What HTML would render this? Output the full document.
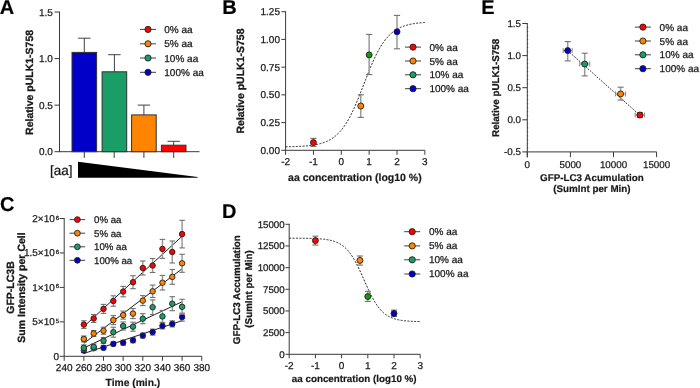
<!DOCTYPE html>
<html><head><meta charset="utf-8"><style>
html,body{margin:0;padding:0;background:#fff;width:700px;height:388px;overflow:hidden}
svg{display:block;will-change:transform}
text{font-family:"Liberation Sans",sans-serif;text-rendering:geometricPrecision}
</style></head><body>
<svg width="700" height="388" viewBox="0 0 700 388">
<rect width="700" height="388" fill="#fff"/>
<text x="-0.30" y="14.30" font-size="20" text-anchor="start" font-weight="bold" stroke="#1a1a1a" stroke-width="0.2" fill="#000" >A</text>
<text x="222.20" y="14.30" font-size="20" text-anchor="start" font-weight="bold" stroke="#1a1a1a" stroke-width="0.2" fill="#000" >B</text>
<text x="481.20" y="14.30" font-size="20" text-anchor="start" font-weight="bold" stroke="#1a1a1a" stroke-width="0.2" fill="#000" >E</text>
<text x="0.00" y="211.30" font-size="20" text-anchor="start" font-weight="bold" stroke="#1a1a1a" stroke-width="0.2" fill="#000" >C</text>
<text x="222.00" y="218.20" font-size="20" text-anchor="start" font-weight="bold" stroke="#1a1a1a" stroke-width="0.2" fill="#000" >D</text>
<line x1="59.50" y1="11.55" x2="59.50" y2="152.20" stroke="#3a3a3a" stroke-width="1" />
<line x1="54.50" y1="151.70" x2="59.50" y2="151.70" stroke="#3a3a3a" stroke-width="1" />
<text x="52.90" y="155.40" font-size="10" text-anchor="end" stroke="#1a1a1a" stroke-width="0.25" fill="#1a1a1a" >0.0</text>
<line x1="54.50" y1="105.15" x2="59.50" y2="105.15" stroke="#3a3a3a" stroke-width="1" />
<text x="52.90" y="108.85" font-size="10" text-anchor="end" stroke="#1a1a1a" stroke-width="0.25" fill="#1a1a1a" >0.5</text>
<line x1="54.50" y1="58.60" x2="59.50" y2="58.60" stroke="#3a3a3a" stroke-width="1" />
<text x="52.90" y="62.30" font-size="10" text-anchor="end" stroke="#1a1a1a" stroke-width="0.25" fill="#1a1a1a" >1.0</text>
<line x1="54.50" y1="12.05" x2="59.50" y2="12.05" stroke="#3a3a3a" stroke-width="1" />
<text x="52.90" y="15.75" font-size="10" text-anchor="end" stroke="#1a1a1a" stroke-width="0.25" fill="#1a1a1a" >1.5</text>
<line x1="59.50" y1="151.70" x2="199.50" y2="151.70" stroke="#3a3a3a" stroke-width="1" />
<line x1="84.30" y1="151.70" x2="84.30" y2="157.90" stroke="#3a3a3a" stroke-width="1" />
<line x1="114.20" y1="151.70" x2="114.20" y2="157.90" stroke="#3a3a3a" stroke-width="1" />
<line x1="143.90" y1="151.70" x2="143.90" y2="157.90" stroke="#3a3a3a" stroke-width="1" />
<line x1="173.70" y1="151.70" x2="173.70" y2="157.90" stroke="#3a3a3a" stroke-width="1" />
<line x1="84.30" y1="38.20" x2="84.30" y2="52.40" stroke="#404040" stroke-width="1" />
<line x1="78.10" y1="38.20" x2="90.50" y2="38.20" stroke="#404040" stroke-width="1" />
<rect x="72.00" y="52.40" width="24.60" height="99.30" fill="#0000c8" stroke="#303030" stroke-width="1"/>
<line x1="114.40" y1="54.70" x2="114.40" y2="71.80" stroke="#404040" stroke-width="1" />
<line x1="108.20" y1="54.70" x2="120.60" y2="54.70" stroke="#404040" stroke-width="1" />
<rect x="102.10" y="71.80" width="24.60" height="79.90" fill="#1a9e68" stroke="#303030" stroke-width="1"/>
<line x1="143.90" y1="105.10" x2="143.90" y2="114.90" stroke="#404040" stroke-width="1" />
<line x1="137.70" y1="105.10" x2="150.10" y2="105.10" stroke="#404040" stroke-width="1" />
<rect x="131.60" y="114.90" width="24.60" height="36.80" fill="#ff8500" stroke="#303030" stroke-width="1"/>
<line x1="173.70" y1="141.30" x2="173.70" y2="145.20" stroke="#404040" stroke-width="1" />
<line x1="167.50" y1="141.30" x2="179.90" y2="141.30" stroke="#404040" stroke-width="1" />
<rect x="161.40" y="145.20" width="24.60" height="6.50" fill="#ff0000" stroke="#303030" stroke-width="1"/>
<text transform="translate(33.30,82.40) rotate(-90)" font-size="10.5" text-anchor="middle" font-weight="bold" stroke="#1a1a1a" stroke-width="0.3" fill="#1a1a1a">Relative pULK1-S758</text>
<text x="50.00" y="175.00" font-size="13.5" text-anchor="start" stroke="#1a1a1a" stroke-width="0.25" fill="#1a1a1a" >[aa]</text>
<polygon points="78,161.8 197.6,177.0 197.6,177.8 78,177.8" fill="#000"/>
<line x1="140.00" y1="29.40" x2="156.00" y2="29.40" stroke="#404040" stroke-width="1" />
<circle cx="148.00" cy="29.40" r="3.1" fill="#ff0000" stroke="#202020" stroke-width="0.9"/>
<text x="164.30" y="33.00" font-size="10" text-anchor="start" stroke="#1a1a1a" stroke-width="0.25" fill="#1a1a1a" >0% aa</text>
<line x1="140.00" y1="43.80" x2="156.00" y2="43.80" stroke="#404040" stroke-width="1" />
<circle cx="148.00" cy="43.80" r="3.1" fill="#ff8500" stroke="#202020" stroke-width="0.9"/>
<text x="164.30" y="47.40" font-size="10" text-anchor="start" stroke="#1a1a1a" stroke-width="0.25" fill="#1a1a1a" >5% aa</text>
<line x1="140.00" y1="58.00" x2="156.00" y2="58.00" stroke="#404040" stroke-width="1" />
<circle cx="148.00" cy="58.00" r="3.1" fill="#1a9e68" stroke="#202020" stroke-width="0.9"/>
<text x="164.30" y="61.60" font-size="10" text-anchor="start" stroke="#1a1a1a" stroke-width="0.25" fill="#1a1a1a" >10% aa</text>
<line x1="140.00" y1="72.30" x2="156.00" y2="72.30" stroke="#404040" stroke-width="1" />
<circle cx="148.00" cy="72.30" r="3.1" fill="#0000c8" stroke="#202020" stroke-width="0.9"/>
<text x="164.30" y="75.90" font-size="10" text-anchor="start" stroke="#1a1a1a" stroke-width="0.25" fill="#1a1a1a" >100% aa</text>
<line x1="285.60" y1="11.20" x2="285.60" y2="150.80" stroke="#3a3a3a" stroke-width="1" />
<line x1="281.40" y1="150.30" x2="285.60" y2="150.30" stroke="#3a3a3a" stroke-width="1" />
<text x="280.00" y="153.70" font-size="10" text-anchor="end" stroke="#1a1a1a" stroke-width="0.25" fill="#1a1a1a" >0.00</text>
<line x1="281.40" y1="122.58" x2="285.60" y2="122.58" stroke="#3a3a3a" stroke-width="1" />
<text x="280.00" y="125.98" font-size="10" text-anchor="end" stroke="#1a1a1a" stroke-width="0.25" fill="#1a1a1a" >0.25</text>
<line x1="281.40" y1="94.86" x2="285.60" y2="94.86" stroke="#3a3a3a" stroke-width="1" />
<text x="280.00" y="98.26" font-size="10" text-anchor="end" stroke="#1a1a1a" stroke-width="0.25" fill="#1a1a1a" >0.50</text>
<line x1="281.40" y1="67.14" x2="285.60" y2="67.14" stroke="#3a3a3a" stroke-width="1" />
<text x="280.00" y="70.54" font-size="10" text-anchor="end" stroke="#1a1a1a" stroke-width="0.25" fill="#1a1a1a" >0.75</text>
<line x1="281.40" y1="39.42" x2="285.60" y2="39.42" stroke="#3a3a3a" stroke-width="1" />
<text x="280.00" y="42.82" font-size="10" text-anchor="end" stroke="#1a1a1a" stroke-width="0.25" fill="#1a1a1a" >1.00</text>
<line x1="281.40" y1="11.70" x2="285.60" y2="11.70" stroke="#3a3a3a" stroke-width="1" />
<text x="280.00" y="15.10" font-size="10" text-anchor="end" stroke="#1a1a1a" stroke-width="0.25" fill="#1a1a1a" >1.25</text>
<line x1="285.60" y1="150.30" x2="424.85" y2="150.30" stroke="#3a3a3a" stroke-width="1" />
<line x1="285.60" y1="150.30" x2="285.60" y2="154.80" stroke="#3a3a3a" stroke-width="1" />
<text x="285.60" y="165.20" font-size="10" text-anchor="middle" stroke="#1a1a1a" stroke-width="0.25" fill="#1a1a1a" >-2</text>
<line x1="313.45" y1="150.30" x2="313.45" y2="154.80" stroke="#3a3a3a" stroke-width="1" />
<text x="313.45" y="165.20" font-size="10" text-anchor="middle" stroke="#1a1a1a" stroke-width="0.25" fill="#1a1a1a" >-1</text>
<line x1="341.30" y1="150.30" x2="341.30" y2="154.80" stroke="#3a3a3a" stroke-width="1" />
<text x="341.30" y="165.20" font-size="10" text-anchor="middle" stroke="#1a1a1a" stroke-width="0.25" fill="#1a1a1a" >0</text>
<line x1="369.15" y1="150.30" x2="369.15" y2="154.80" stroke="#3a3a3a" stroke-width="1" />
<text x="369.15" y="165.20" font-size="10" text-anchor="middle" stroke="#1a1a1a" stroke-width="0.25" fill="#1a1a1a" >1</text>
<line x1="397.00" y1="150.30" x2="397.00" y2="154.80" stroke="#3a3a3a" stroke-width="1" />
<text x="397.00" y="165.20" font-size="10" text-anchor="middle" stroke="#1a1a1a" stroke-width="0.25" fill="#1a1a1a" >2</text>
<line x1="424.85" y1="150.30" x2="424.85" y2="154.80" stroke="#3a3a3a" stroke-width="1" />
<text x="424.85" y="165.20" font-size="10" text-anchor="middle" stroke="#1a1a1a" stroke-width="0.25" fill="#1a1a1a" >3</text>
<text x="354.90" y="180.80" font-size="10.5" text-anchor="middle" font-weight="bold" stroke="#1a1a1a" stroke-width="0.2" fill="#1a1a1a" >aa concentration (log10 %)</text>
<text transform="translate(244.00,81.00) rotate(-90)" font-size="10.5" text-anchor="middle" font-weight="bold" stroke="#1a1a1a" stroke-width="0.3" fill="#1a1a1a">Relative pULK1-S758</text>
<polyline points="285.60,146.78 286.30,146.77 286.99,146.76 287.69,146.74 288.39,146.73 289.08,146.71 289.78,146.70 290.47,146.68 291.17,146.67 291.87,146.65 292.56,146.63 293.26,146.61 293.96,146.59 294.65,146.56 295.35,146.54 296.04,146.51 296.74,146.49 297.44,146.46 298.13,146.43 298.83,146.39 299.53,146.36 300.22,146.32 300.92,146.29 301.61,146.25 302.31,146.20 303.01,146.16 303.70,146.11 304.40,146.06 305.10,146.00 305.79,145.95 306.49,145.89 307.18,145.82 307.88,145.76 308.58,145.68 309.27,145.61 309.97,145.53 310.67,145.44 311.36,145.35 312.06,145.26 312.75,145.16 313.45,145.05 314.15,144.94 314.84,144.82 315.54,144.70 316.24,144.57 316.93,144.43 317.63,144.28 318.32,144.12 319.02,143.96 319.72,143.78 320.41,143.60 321.11,143.41 321.81,143.20 322.50,142.98 323.20,142.76 323.89,142.52 324.59,142.26 325.29,141.99 325.98,141.71 326.68,141.41 327.38,141.10 328.07,140.77 328.77,140.42 329.46,140.05 330.16,139.67 330.86,139.26 331.55,138.83 332.25,138.38 332.95,137.91 333.64,137.41 334.34,136.89 335.03,136.35 335.73,135.77 336.43,135.17 337.12,134.54 337.82,133.88 338.52,133.19 339.21,132.47 339.91,131.71 340.60,130.93 341.30,130.10 342.00,129.25 342.69,128.35 343.39,127.42 344.09,126.45 344.78,125.44 345.48,124.40 346.17,123.31 346.87,122.19 347.57,121.02 348.26,119.82 348.96,118.57 349.66,117.29 350.35,115.97 351.05,114.60 351.74,113.20 352.44,111.76 353.14,110.29 353.83,108.78 354.53,107.23 355.23,105.65 355.92,104.04 356.62,102.41 357.31,100.74 358.01,99.05 358.71,97.33 359.40,95.60 360.10,93.84 360.80,92.08 361.49,90.29 362.19,88.50 362.88,86.71 363.58,84.90 364.28,83.10 364.97,81.30 365.67,79.50 366.37,77.72 367.06,75.94 367.76,74.17 368.45,72.43 369.15,70.70 369.85,68.99 370.54,67.31 371.24,65.65 371.94,64.02 372.63,62.43 373.33,60.86 374.02,59.33 374.72,57.83 375.42,56.37 376.11,54.94 376.81,53.55 377.50,52.20 378.20,50.90 378.90,49.63 379.59,48.40 380.29,47.21 380.99,46.06 381.68,44.95 382.38,43.87 383.08,42.84 383.77,41.85 384.47,40.89 385.16,39.98 385.86,39.09 386.56,38.25 387.25,37.44 387.95,36.66 388.65,35.92 389.34,35.21 390.04,34.53 390.73,33.88 391.43,33.26 392.13,32.67 392.82,32.11 393.52,31.57 394.22,31.06 394.91,30.57 395.61,30.11 396.30,29.67 397.00,29.25 397.70,28.85 398.39,28.47 399.09,28.11 399.79,27.76 400.48,27.44 401.18,27.13 401.87,26.84 402.57,26.56 403.27,26.30 403.96,26.05 404.66,25.81 405.36,25.59 406.05,25.38 406.75,25.18 407.44,24.99 408.14,24.80 408.84,24.63 409.53,24.47 410.23,24.32 410.93,24.17 411.62,24.04 412.32,23.91 413.01,23.79 413.71,23.67 414.41,23.56 415.10,23.46 415.80,23.36 416.50,23.27 417.19,23.18 417.89,23.09 418.58,23.02 419.28,22.94 419.98,22.87 420.67,22.81 421.37,22.74 422.07,22.68 422.76,22.63 423.46,22.58 424.15,22.53 424.85,22.48" fill="none" stroke="#202020" stroke-width="1" stroke-dasharray="2,1.4"/>
<line x1="313.45" y1="138.40" x2="313.45" y2="146.40" stroke="#9a9a9a" stroke-width="1.5" />
<line x1="310.35" y1="138.40" x2="316.55" y2="138.40" stroke="#707070" stroke-width="1.1" />
<line x1="310.35" y1="146.40" x2="316.55" y2="146.40" stroke="#707070" stroke-width="1.1" />
<circle cx="313.45" cy="142.60" r="3.0" fill="#ff0000" stroke="#202020" stroke-width="0.9"/>
<line x1="360.77" y1="94.80" x2="360.77" y2="117.40" stroke="#9a9a9a" stroke-width="1.5" />
<line x1="357.67" y1="94.80" x2="363.87" y2="94.80" stroke="#707070" stroke-width="1.1" />
<line x1="357.67" y1="117.40" x2="363.87" y2="117.40" stroke="#707070" stroke-width="1.1" />
<circle cx="360.77" cy="106.00" r="3.0" fill="#ff8500" stroke="#202020" stroke-width="0.9"/>
<line x1="369.15" y1="34.40" x2="369.15" y2="74.60" stroke="#9a9a9a" stroke-width="1.5" />
<line x1="366.05" y1="34.40" x2="372.25" y2="34.40" stroke="#707070" stroke-width="1.1" />
<line x1="366.05" y1="74.60" x2="372.25" y2="74.60" stroke="#707070" stroke-width="1.1" />
<circle cx="369.15" cy="54.90" r="3.0" fill="#109a10" stroke="#202020" stroke-width="0.9"/>
<line x1="397.00" y1="15.40" x2="397.00" y2="48.80" stroke="#9a9a9a" stroke-width="1.5" />
<line x1="393.90" y1="15.40" x2="400.10" y2="15.40" stroke="#707070" stroke-width="1.1" />
<line x1="393.90" y1="48.80" x2="400.10" y2="48.80" stroke="#707070" stroke-width="1.1" />
<circle cx="397.00" cy="31.80" r="3.0" fill="#0000c8" stroke="#202020" stroke-width="0.9"/>
<line x1="405.00" y1="47.10" x2="421.00" y2="47.10" stroke="#404040" stroke-width="1" />
<circle cx="413.00" cy="47.10" r="3.1" fill="#ff0000" stroke="#202020" stroke-width="0.9"/>
<text x="429.40" y="50.70" font-size="10" text-anchor="start" stroke="#1a1a1a" stroke-width="0.25" fill="#1a1a1a" >0% aa</text>
<line x1="405.00" y1="61.00" x2="421.00" y2="61.00" stroke="#404040" stroke-width="1" />
<circle cx="413.00" cy="61.00" r="3.1" fill="#ff8500" stroke="#202020" stroke-width="0.9"/>
<text x="429.40" y="64.60" font-size="10" text-anchor="start" stroke="#1a1a1a" stroke-width="0.25" fill="#1a1a1a" >5% aa</text>
<line x1="405.00" y1="74.80" x2="421.00" y2="74.80" stroke="#404040" stroke-width="1" />
<circle cx="413.00" cy="74.80" r="3.1" fill="#1a9e68" stroke="#202020" stroke-width="0.9"/>
<text x="429.40" y="78.40" font-size="10" text-anchor="start" stroke="#1a1a1a" stroke-width="0.25" fill="#1a1a1a" >10% aa</text>
<line x1="405.00" y1="88.70" x2="421.00" y2="88.70" stroke="#404040" stroke-width="1" />
<circle cx="413.00" cy="88.70" r="3.1" fill="#0000c8" stroke="#202020" stroke-width="0.9"/>
<text x="429.40" y="92.30" font-size="10" text-anchor="start" stroke="#1a1a1a" stroke-width="0.25" fill="#1a1a1a" >100% aa</text>
<line x1="527.30" y1="23.00" x2="527.30" y2="157.40" stroke="#3a3a3a" stroke-width="1" />
<line x1="522.30" y1="151.90" x2="527.30" y2="151.90" stroke="#3a3a3a" stroke-width="1" />
<text x="521.00" y="155.20" font-size="9.8" text-anchor="end" stroke="#1a1a1a" stroke-width="0.25" fill="#1a1a1a" >-0.5</text>
<line x1="522.30" y1="119.80" x2="527.30" y2="119.80" stroke="#3a3a3a" stroke-width="1" />
<text x="521.00" y="123.10" font-size="9.8" text-anchor="end" stroke="#1a1a1a" stroke-width="0.25" fill="#1a1a1a" >0.0</text>
<line x1="522.30" y1="87.70" x2="527.30" y2="87.70" stroke="#3a3a3a" stroke-width="1" />
<text x="521.00" y="91.00" font-size="9.8" text-anchor="end" stroke="#1a1a1a" stroke-width="0.25" fill="#1a1a1a" >0.5</text>
<line x1="522.30" y1="55.60" x2="527.30" y2="55.60" stroke="#3a3a3a" stroke-width="1" />
<text x="521.00" y="58.90" font-size="9.8" text-anchor="end" stroke="#1a1a1a" stroke-width="0.25" fill="#1a1a1a" >1.0</text>
<line x1="522.30" y1="23.50" x2="527.30" y2="23.50" stroke="#3a3a3a" stroke-width="1" />
<text x="521.00" y="26.80" font-size="9.8" text-anchor="end" stroke="#1a1a1a" stroke-width="0.25" fill="#1a1a1a" >1.5</text>
<line x1="527.00" y1="147.89" x2="528.20" y2="147.89" stroke="#333" stroke-width="0.8" />
<line x1="527.00" y1="143.88" x2="528.20" y2="143.88" stroke="#333" stroke-width="0.8" />
<line x1="527.00" y1="139.86" x2="528.20" y2="139.86" stroke="#333" stroke-width="0.8" />
<line x1="527.00" y1="135.85" x2="528.20" y2="135.85" stroke="#333" stroke-width="0.8" />
<line x1="527.00" y1="131.84" x2="528.20" y2="131.84" stroke="#333" stroke-width="0.8" />
<line x1="527.00" y1="127.83" x2="528.20" y2="127.83" stroke="#333" stroke-width="0.8" />
<line x1="527.00" y1="123.81" x2="528.20" y2="123.81" stroke="#333" stroke-width="0.8" />
<line x1="527.00" y1="115.79" x2="528.20" y2="115.79" stroke="#333" stroke-width="0.8" />
<line x1="527.00" y1="111.78" x2="528.20" y2="111.78" stroke="#333" stroke-width="0.8" />
<line x1="527.00" y1="107.76" x2="528.20" y2="107.76" stroke="#333" stroke-width="0.8" />
<line x1="527.00" y1="103.75" x2="528.20" y2="103.75" stroke="#333" stroke-width="0.8" />
<line x1="527.00" y1="99.74" x2="528.20" y2="99.74" stroke="#333" stroke-width="0.8" />
<line x1="527.00" y1="95.73" x2="528.20" y2="95.73" stroke="#333" stroke-width="0.8" />
<line x1="527.00" y1="91.71" x2="528.20" y2="91.71" stroke="#333" stroke-width="0.8" />
<line x1="527.00" y1="83.69" x2="528.20" y2="83.69" stroke="#333" stroke-width="0.8" />
<line x1="527.00" y1="79.67" x2="528.20" y2="79.67" stroke="#333" stroke-width="0.8" />
<line x1="527.00" y1="75.66" x2="528.20" y2="75.66" stroke="#333" stroke-width="0.8" />
<line x1="527.00" y1="71.65" x2="528.20" y2="71.65" stroke="#333" stroke-width="0.8" />
<line x1="527.00" y1="67.64" x2="528.20" y2="67.64" stroke="#333" stroke-width="0.8" />
<line x1="527.00" y1="63.62" x2="528.20" y2="63.62" stroke="#333" stroke-width="0.8" />
<line x1="527.00" y1="59.61" x2="528.20" y2="59.61" stroke="#333" stroke-width="0.8" />
<line x1="527.00" y1="51.59" x2="528.20" y2="51.59" stroke="#333" stroke-width="0.8" />
<line x1="527.00" y1="47.57" x2="528.20" y2="47.57" stroke="#333" stroke-width="0.8" />
<line x1="527.00" y1="43.56" x2="528.20" y2="43.56" stroke="#333" stroke-width="0.8" />
<line x1="527.00" y1="39.55" x2="528.20" y2="39.55" stroke="#333" stroke-width="0.8" />
<line x1="527.00" y1="35.54" x2="528.20" y2="35.54" stroke="#333" stroke-width="0.8" />
<line x1="527.00" y1="31.52" x2="528.20" y2="31.52" stroke="#333" stroke-width="0.8" />
<line x1="527.00" y1="27.51" x2="528.20" y2="27.51" stroke="#333" stroke-width="0.8" />
<line x1="527.30" y1="151.90" x2="656.60" y2="151.90" stroke="#3a3a3a" stroke-width="1" />
<line x1="527.30" y1="151.90" x2="527.30" y2="157.20" stroke="#3a3a3a" stroke-width="1" />
<text x="527.30" y="167.60" font-size="9.8" text-anchor="middle" stroke="#1a1a1a" stroke-width="0.25" fill="#1a1a1a" >0</text>
<line x1="570.40" y1="151.90" x2="570.40" y2="157.20" stroke="#3a3a3a" stroke-width="1" />
<text x="570.40" y="167.60" font-size="9.8" text-anchor="middle" stroke="#1a1a1a" stroke-width="0.25" fill="#1a1a1a" >5000</text>
<line x1="613.50" y1="151.90" x2="613.50" y2="157.20" stroke="#3a3a3a" stroke-width="1" />
<text x="613.50" y="167.60" font-size="9.8" text-anchor="middle" stroke="#1a1a1a" stroke-width="0.25" fill="#1a1a1a" >10000</text>
<line x1="656.60" y1="151.90" x2="656.60" y2="157.20" stroke="#3a3a3a" stroke-width="1" />
<text x="656.60" y="167.60" font-size="9.8" text-anchor="middle" stroke="#1a1a1a" stroke-width="0.25" fill="#1a1a1a" >15000</text>
<text x="591.90" y="181.00" font-size="9.8" text-anchor="middle" font-weight="bold" stroke="#1a1a1a" stroke-width="0.2" fill="#1a1a1a" >GFP-LC3 Acumulation</text>
<text x="591.90" y="191.90" font-size="9.8" text-anchor="middle" font-weight="bold" stroke="#1a1a1a" stroke-width="0.2" fill="#1a1a1a" >(SumInt per Min)</text>
<text transform="translate(498.80,87.90) rotate(-90)" font-size="9.8" text-anchor="middle" font-weight="bold" stroke="#1a1a1a" stroke-width="0.3" fill="#1a1a1a">Relative pULK1-S758</text>
<polyline points="567.7,50.6 639.9,115.3" fill="none" stroke="#202020" stroke-width="1" stroke-dasharray="1.6,1.4"/>
<line x1="567.70" y1="41.60" x2="567.70" y2="60.90" stroke="#9a9a9a" stroke-width="1.5" />
<line x1="564.70" y1="41.60" x2="570.70" y2="41.60" stroke="#707070" stroke-width="1.1" />
<line x1="564.70" y1="60.90" x2="570.70" y2="60.90" stroke="#707070" stroke-width="1.1" />
<line x1="563.20" y1="50.60" x2="572.20" y2="50.60" stroke="#888" stroke-width="1" />
<line x1="563.20" y1="48.10" x2="563.20" y2="53.10" stroke="#888" stroke-width="1" />
<line x1="572.20" y1="48.10" x2="572.20" y2="53.10" stroke="#888" stroke-width="1" />
<circle cx="567.70" cy="50.60" r="3.0" fill="#0000c8" stroke="#202020" stroke-width="0.9"/>
<line x1="584.70" y1="53.20" x2="584.70" y2="75.90" stroke="#9a9a9a" stroke-width="1.5" />
<line x1="581.70" y1="53.20" x2="587.70" y2="53.20" stroke="#707070" stroke-width="1.1" />
<line x1="581.70" y1="75.90" x2="587.70" y2="75.90" stroke="#707070" stroke-width="1.1" />
<line x1="579.70" y1="64.00" x2="589.70" y2="64.00" stroke="#888" stroke-width="1" />
<line x1="579.70" y1="61.50" x2="579.70" y2="66.50" stroke="#888" stroke-width="1" />
<line x1="589.70" y1="61.50" x2="589.70" y2="66.50" stroke="#888" stroke-width="1" />
<circle cx="584.70" cy="64.00" r="3.0" fill="#1a9e68" stroke="#202020" stroke-width="0.9"/>
<line x1="620.60" y1="87.20" x2="620.60" y2="100.10" stroke="#9a9a9a" stroke-width="1.5" />
<line x1="617.60" y1="87.20" x2="623.60" y2="87.20" stroke="#707070" stroke-width="1.1" />
<line x1="617.60" y1="100.10" x2="623.60" y2="100.10" stroke="#707070" stroke-width="1.1" />
<line x1="615.60" y1="93.90" x2="625.60" y2="93.90" stroke="#888" stroke-width="1" />
<line x1="615.60" y1="91.40" x2="615.60" y2="96.40" stroke="#888" stroke-width="1" />
<line x1="625.60" y1="91.40" x2="625.60" y2="96.40" stroke="#888" stroke-width="1" />
<circle cx="620.60" cy="93.90" r="3.0" fill="#ff8500" stroke="#202020" stroke-width="0.9"/>
<line x1="639.90" y1="112.50" x2="639.90" y2="117.50" stroke="#9a9a9a" stroke-width="1.5" />
<line x1="636.90" y1="112.50" x2="642.90" y2="112.50" stroke="#707070" stroke-width="1.1" />
<line x1="636.90" y1="117.50" x2="642.90" y2="117.50" stroke="#707070" stroke-width="1.1" />
<line x1="635.20" y1="115.00" x2="644.60" y2="115.00" stroke="#888" stroke-width="1" />
<line x1="635.20" y1="112.50" x2="635.20" y2="117.50" stroke="#888" stroke-width="1" />
<line x1="644.60" y1="112.50" x2="644.60" y2="117.50" stroke="#888" stroke-width="1" />
<circle cx="639.90" cy="115.00" r="3.0" fill="#ff0000" stroke="#202020" stroke-width="0.9"/>
<line x1="634.90" y1="27.10" x2="650.90" y2="27.10" stroke="#404040" stroke-width="1" />
<circle cx="642.90" cy="27.10" r="3.1" fill="#ff0000" stroke="#202020" stroke-width="0.9"/>
<text x="659.60" y="30.70" font-size="10" text-anchor="start" stroke="#1a1a1a" stroke-width="0.25" fill="#1a1a1a" >0% aa</text>
<line x1="634.90" y1="41.00" x2="650.90" y2="41.00" stroke="#404040" stroke-width="1" />
<circle cx="642.90" cy="41.00" r="3.1" fill="#ff8500" stroke="#202020" stroke-width="0.9"/>
<text x="659.60" y="44.60" font-size="10" text-anchor="start" stroke="#1a1a1a" stroke-width="0.25" fill="#1a1a1a" >5% aa</text>
<line x1="634.90" y1="54.80" x2="650.90" y2="54.80" stroke="#404040" stroke-width="1" />
<circle cx="642.90" cy="54.80" r="3.1" fill="#1a9e68" stroke="#202020" stroke-width="0.9"/>
<text x="659.60" y="58.40" font-size="10" text-anchor="start" stroke="#1a1a1a" stroke-width="0.25" fill="#1a1a1a" >10% aa</text>
<line x1="634.90" y1="68.70" x2="650.90" y2="68.70" stroke="#404040" stroke-width="1" />
<circle cx="642.90" cy="68.70" r="3.1" fill="#0000c8" stroke="#202020" stroke-width="0.9"/>
<text x="659.60" y="72.30" font-size="10" text-anchor="start" stroke="#1a1a1a" stroke-width="0.25" fill="#1a1a1a" >100% aa</text>
<line x1="64.20" y1="218.00" x2="64.20" y2="356.80" stroke="#3a3a3a" stroke-width="1" />
<line x1="59.70" y1="356.30" x2="64.20" y2="356.30" stroke="#3a3a3a" stroke-width="1" />
<text x="59.00" y="359.70" font-size="10" text-anchor="end" stroke="#1a1a1a" stroke-width="0.25" fill="#1a1a1a" >0</text>
<line x1="59.70" y1="321.85" x2="64.20" y2="321.85" stroke="#3a3a3a" stroke-width="1" />
<text x="59.00" y="325.25" font-size="10" text-anchor="end" stroke="#1a1a1a" stroke-width="0.25" fill="#1a1a1a" >5×10<tspan dx="0.8" dy="-2.4" font-size="6">5</tspan></text>
<line x1="59.70" y1="287.40" x2="64.20" y2="287.40" stroke="#3a3a3a" stroke-width="1" />
<text x="59.00" y="290.80" font-size="10" text-anchor="end" stroke="#1a1a1a" stroke-width="0.25" fill="#1a1a1a" >1×10<tspan dx="0.8" dy="-2.4" font-size="6">6</tspan></text>
<line x1="59.70" y1="252.95" x2="64.20" y2="252.95" stroke="#3a3a3a" stroke-width="1" />
<text x="59.00" y="256.35" font-size="10" text-anchor="end" stroke="#1a1a1a" stroke-width="0.25" fill="#1a1a1a" >1.5×10<tspan dx="0.8" dy="-2.4" font-size="6">6</tspan></text>
<line x1="59.70" y1="218.50" x2="64.20" y2="218.50" stroke="#3a3a3a" stroke-width="1" />
<text x="59.00" y="221.90" font-size="10" text-anchor="end" stroke="#1a1a1a" stroke-width="0.25" fill="#1a1a1a" >2×10<tspan dx="0.8" dy="-2.4" font-size="6">6</tspan></text>
<line x1="64.20" y1="356.30" x2="201.75" y2="356.30" stroke="#3a3a3a" stroke-width="1" />
<line x1="64.20" y1="356.30" x2="64.20" y2="360.80" stroke="#3a3a3a" stroke-width="1" />
<text x="64.20" y="370.90" font-size="10" text-anchor="middle" stroke="#1a1a1a" stroke-width="0.25" fill="#1a1a1a" >240</text>
<line x1="83.85" y1="356.30" x2="83.85" y2="360.80" stroke="#3a3a3a" stroke-width="1" />
<text x="83.85" y="370.90" font-size="10" text-anchor="middle" stroke="#1a1a1a" stroke-width="0.25" fill="#1a1a1a" >260</text>
<line x1="103.50" y1="356.30" x2="103.50" y2="360.80" stroke="#3a3a3a" stroke-width="1" />
<text x="103.50" y="370.90" font-size="10" text-anchor="middle" stroke="#1a1a1a" stroke-width="0.25" fill="#1a1a1a" >280</text>
<line x1="123.15" y1="356.30" x2="123.15" y2="360.80" stroke="#3a3a3a" stroke-width="1" />
<text x="123.15" y="370.90" font-size="10" text-anchor="middle" stroke="#1a1a1a" stroke-width="0.25" fill="#1a1a1a" >300</text>
<line x1="142.80" y1="356.30" x2="142.80" y2="360.80" stroke="#3a3a3a" stroke-width="1" />
<text x="142.80" y="370.90" font-size="10" text-anchor="middle" stroke="#1a1a1a" stroke-width="0.25" fill="#1a1a1a" >320</text>
<line x1="162.45" y1="356.30" x2="162.45" y2="360.80" stroke="#3a3a3a" stroke-width="1" />
<text x="162.45" y="370.90" font-size="10" text-anchor="middle" stroke="#1a1a1a" stroke-width="0.25" fill="#1a1a1a" >340</text>
<line x1="182.10" y1="356.30" x2="182.10" y2="360.80" stroke="#3a3a3a" stroke-width="1" />
<text x="182.10" y="370.90" font-size="10" text-anchor="middle" stroke="#1a1a1a" stroke-width="0.25" fill="#1a1a1a" >360</text>
<line x1="201.75" y1="356.30" x2="201.75" y2="360.80" stroke="#3a3a3a" stroke-width="1" />
<text x="201.75" y="370.90" font-size="10" text-anchor="middle" stroke="#1a1a1a" stroke-width="0.25" fill="#1a1a1a" >380</text>
<text x="132.90" y="385.50" font-size="10.3" text-anchor="middle" font-weight="bold" stroke="#1a1a1a" stroke-width="0.2" fill="#1a1a1a" >Time (min.)</text>
<text transform="translate(14.40,287.50) rotate(-90)" font-size="10.5" text-anchor="middle" font-weight="bold" stroke="#1a1a1a" stroke-width="0.3" fill="#1a1a1a">GFP-LC3B</text>
<text transform="translate(25.30,287.50) rotate(-90)" font-size="10.5" text-anchor="middle" font-weight="bold" stroke="#1a1a1a" stroke-width="0.3" fill="#1a1a1a">Sum Intensity per Cell</text>
<line x1="83.85" y1="326.53" x2="182.10" y2="236.25" stroke="#202020" stroke-width="1" />
<line x1="83.85" y1="343.39" x2="182.10" y2="268.75" stroke="#202020" stroke-width="1" />
<line x1="83.85" y1="347.93" x2="182.10" y2="301.73" stroke="#202020" stroke-width="1" />
<line x1="83.85" y1="353.54" x2="182.10" y2="320.68" stroke="#202020" stroke-width="1" />
<line x1="83.85" y1="348.60" x2="83.85" y2="352.60" stroke="#9a9a9a" stroke-width="1.5" />
<line x1="81.10" y1="348.60" x2="86.60" y2="348.60" stroke="#707070" stroke-width="1.1" />
<line x1="81.10" y1="352.60" x2="86.60" y2="352.60" stroke="#707070" stroke-width="1.1" />
<line x1="93.68" y1="346.30" x2="93.68" y2="350.30" stroke="#9a9a9a" stroke-width="1.5" />
<line x1="90.93" y1="346.30" x2="96.43" y2="346.30" stroke="#707070" stroke-width="1.1" />
<line x1="90.93" y1="350.30" x2="96.43" y2="350.30" stroke="#707070" stroke-width="1.1" />
<line x1="103.50" y1="345.80" x2="103.50" y2="349.80" stroke="#9a9a9a" stroke-width="1.5" />
<line x1="100.75" y1="345.80" x2="106.25" y2="345.80" stroke="#707070" stroke-width="1.1" />
<line x1="100.75" y1="349.80" x2="106.25" y2="349.80" stroke="#707070" stroke-width="1.1" />
<line x1="113.33" y1="341.90" x2="113.33" y2="345.90" stroke="#9a9a9a" stroke-width="1.5" />
<line x1="110.58" y1="341.90" x2="116.08" y2="341.90" stroke="#707070" stroke-width="1.1" />
<line x1="110.58" y1="345.90" x2="116.08" y2="345.90" stroke="#707070" stroke-width="1.1" />
<line x1="123.15" y1="340.20" x2="123.15" y2="345.20" stroke="#9a9a9a" stroke-width="1.5" />
<line x1="120.40" y1="340.20" x2="125.90" y2="340.20" stroke="#707070" stroke-width="1.1" />
<line x1="120.40" y1="345.20" x2="125.90" y2="345.20" stroke="#707070" stroke-width="1.1" />
<line x1="132.98" y1="337.80" x2="132.98" y2="342.80" stroke="#9a9a9a" stroke-width="1.5" />
<line x1="130.23" y1="337.80" x2="135.73" y2="337.80" stroke="#707070" stroke-width="1.1" />
<line x1="130.23" y1="342.80" x2="135.73" y2="342.80" stroke="#707070" stroke-width="1.1" />
<line x1="142.80" y1="333.10" x2="142.80" y2="338.10" stroke="#9a9a9a" stroke-width="1.5" />
<line x1="140.05" y1="333.10" x2="145.55" y2="333.10" stroke="#707070" stroke-width="1.1" />
<line x1="140.05" y1="338.10" x2="145.55" y2="338.10" stroke="#707070" stroke-width="1.1" />
<line x1="152.62" y1="329.10" x2="152.62" y2="335.10" stroke="#9a9a9a" stroke-width="1.5" />
<line x1="149.88" y1="329.10" x2="155.38" y2="329.10" stroke="#707070" stroke-width="1.1" />
<line x1="149.88" y1="335.10" x2="155.38" y2="335.10" stroke="#707070" stroke-width="1.1" />
<line x1="162.45" y1="322.90" x2="162.45" y2="328.90" stroke="#9a9a9a" stroke-width="1.5" />
<line x1="159.70" y1="322.90" x2="165.20" y2="322.90" stroke="#707070" stroke-width="1.1" />
<line x1="159.70" y1="328.90" x2="165.20" y2="328.90" stroke="#707070" stroke-width="1.1" />
<line x1="172.28" y1="320.90" x2="172.28" y2="326.90" stroke="#9a9a9a" stroke-width="1.5" />
<line x1="169.53" y1="320.90" x2="175.03" y2="320.90" stroke="#707070" stroke-width="1.1" />
<line x1="169.53" y1="326.90" x2="175.03" y2="326.90" stroke="#707070" stroke-width="1.1" />
<line x1="182.10" y1="313.10" x2="182.10" y2="321.10" stroke="#9a9a9a" stroke-width="1.5" />
<line x1="179.35" y1="313.10" x2="184.85" y2="313.10" stroke="#707070" stroke-width="1.1" />
<line x1="179.35" y1="321.10" x2="184.85" y2="321.10" stroke="#707070" stroke-width="1.1" />
<circle cx="83.85" cy="350.60" r="2.75" fill="#0000c8" stroke="#202020" stroke-width="0.9"/>
<circle cx="93.68" cy="348.30" r="2.75" fill="#0000c8" stroke="#202020" stroke-width="0.9"/>
<circle cx="103.50" cy="347.80" r="2.75" fill="#0000c8" stroke="#202020" stroke-width="0.9"/>
<circle cx="113.33" cy="343.90" r="2.75" fill="#0000c8" stroke="#202020" stroke-width="0.9"/>
<circle cx="123.15" cy="342.70" r="2.75" fill="#0000c8" stroke="#202020" stroke-width="0.9"/>
<circle cx="132.98" cy="340.30" r="2.75" fill="#0000c8" stroke="#202020" stroke-width="0.9"/>
<circle cx="142.80" cy="335.60" r="2.75" fill="#0000c8" stroke="#202020" stroke-width="0.9"/>
<circle cx="152.62" cy="332.10" r="2.75" fill="#0000c8" stroke="#202020" stroke-width="0.9"/>
<circle cx="162.45" cy="325.90" r="2.75" fill="#0000c8" stroke="#202020" stroke-width="0.9"/>
<circle cx="172.28" cy="323.90" r="2.75" fill="#0000c8" stroke="#202020" stroke-width="0.9"/>
<circle cx="182.10" cy="317.10" r="2.75" fill="#0000c8" stroke="#202020" stroke-width="0.9"/>
<line x1="83.85" y1="344.90" x2="83.85" y2="350.90" stroke="#9a9a9a" stroke-width="1.5" />
<line x1="81.10" y1="344.90" x2="86.60" y2="344.90" stroke="#707070" stroke-width="1.1" />
<line x1="81.10" y1="350.90" x2="86.60" y2="350.90" stroke="#707070" stroke-width="1.1" />
<line x1="93.68" y1="343.90" x2="93.68" y2="349.90" stroke="#9a9a9a" stroke-width="1.5" />
<line x1="90.93" y1="343.90" x2="96.43" y2="343.90" stroke="#707070" stroke-width="1.1" />
<line x1="90.93" y1="349.90" x2="96.43" y2="349.90" stroke="#707070" stroke-width="1.1" />
<line x1="103.50" y1="337.60" x2="103.50" y2="343.60" stroke="#9a9a9a" stroke-width="1.5" />
<line x1="100.75" y1="337.60" x2="106.25" y2="337.60" stroke="#707070" stroke-width="1.1" />
<line x1="100.75" y1="343.60" x2="106.25" y2="343.60" stroke="#707070" stroke-width="1.1" />
<line x1="113.33" y1="327.20" x2="113.33" y2="337.20" stroke="#9a9a9a" stroke-width="1.5" />
<line x1="110.58" y1="327.20" x2="116.08" y2="327.20" stroke="#707070" stroke-width="1.1" />
<line x1="110.58" y1="337.20" x2="116.08" y2="337.20" stroke="#707070" stroke-width="1.1" />
<line x1="123.15" y1="322.00" x2="123.15" y2="330.00" stroke="#9a9a9a" stroke-width="1.5" />
<line x1="120.40" y1="322.00" x2="125.90" y2="322.00" stroke="#707070" stroke-width="1.1" />
<line x1="120.40" y1="330.00" x2="125.90" y2="330.00" stroke="#707070" stroke-width="1.1" />
<line x1="132.98" y1="322.20" x2="132.98" y2="331.20" stroke="#9a9a9a" stroke-width="1.5" />
<line x1="130.23" y1="322.20" x2="135.73" y2="322.20" stroke="#707070" stroke-width="1.1" />
<line x1="130.23" y1="331.20" x2="135.73" y2="331.20" stroke="#707070" stroke-width="1.1" />
<line x1="142.80" y1="313.70" x2="142.80" y2="323.70" stroke="#9a9a9a" stroke-width="1.5" />
<line x1="140.05" y1="313.70" x2="145.55" y2="313.70" stroke="#707070" stroke-width="1.1" />
<line x1="140.05" y1="323.70" x2="145.55" y2="323.70" stroke="#707070" stroke-width="1.1" />
<line x1="152.62" y1="299.90" x2="152.62" y2="314.50" stroke="#9a9a9a" stroke-width="1.5" />
<line x1="149.88" y1="299.90" x2="155.38" y2="299.90" stroke="#707070" stroke-width="1.1" />
<line x1="149.88" y1="314.50" x2="155.38" y2="314.50" stroke="#707070" stroke-width="1.1" />
<line x1="162.45" y1="310.40" x2="162.45" y2="322.40" stroke="#9a9a9a" stroke-width="1.5" />
<line x1="159.70" y1="310.40" x2="165.20" y2="310.40" stroke="#707070" stroke-width="1.1" />
<line x1="159.70" y1="322.40" x2="165.20" y2="322.40" stroke="#707070" stroke-width="1.1" />
<line x1="172.28" y1="296.70" x2="172.28" y2="310.70" stroke="#9a9a9a" stroke-width="1.5" />
<line x1="169.53" y1="296.70" x2="175.03" y2="296.70" stroke="#707070" stroke-width="1.1" />
<line x1="169.53" y1="310.70" x2="175.03" y2="310.70" stroke="#707070" stroke-width="1.1" />
<line x1="182.10" y1="299.30" x2="182.10" y2="314.30" stroke="#9a9a9a" stroke-width="1.5" />
<line x1="179.35" y1="299.30" x2="184.85" y2="299.30" stroke="#707070" stroke-width="1.1" />
<line x1="179.35" y1="314.30" x2="184.85" y2="314.30" stroke="#707070" stroke-width="1.1" />
<circle cx="83.85" cy="347.90" r="2.75" fill="#1a9e68" stroke="#202020" stroke-width="0.9"/>
<circle cx="93.68" cy="346.90" r="2.75" fill="#1a9e68" stroke="#202020" stroke-width="0.9"/>
<circle cx="103.50" cy="340.60" r="2.75" fill="#1a9e68" stroke="#202020" stroke-width="0.9"/>
<circle cx="113.33" cy="332.20" r="2.75" fill="#1a9e68" stroke="#202020" stroke-width="0.9"/>
<circle cx="123.15" cy="326.00" r="2.75" fill="#1a9e68" stroke="#202020" stroke-width="0.9"/>
<circle cx="132.98" cy="326.70" r="2.75" fill="#1a9e68" stroke="#202020" stroke-width="0.9"/>
<circle cx="142.80" cy="318.70" r="2.75" fill="#1a9e68" stroke="#202020" stroke-width="0.9"/>
<circle cx="152.62" cy="307.20" r="2.75" fill="#1a9e68" stroke="#202020" stroke-width="0.9"/>
<circle cx="162.45" cy="316.40" r="2.75" fill="#1a9e68" stroke="#202020" stroke-width="0.9"/>
<circle cx="172.28" cy="303.70" r="2.75" fill="#1a9e68" stroke="#202020" stroke-width="0.9"/>
<circle cx="182.10" cy="306.80" r="2.75" fill="#1a9e68" stroke="#202020" stroke-width="0.9"/>
<line x1="83.85" y1="336.00" x2="83.85" y2="342.00" stroke="#9a9a9a" stroke-width="1.5" />
<line x1="81.10" y1="336.00" x2="86.60" y2="336.00" stroke="#707070" stroke-width="1.1" />
<line x1="81.10" y1="342.00" x2="86.60" y2="342.00" stroke="#707070" stroke-width="1.1" />
<line x1="93.68" y1="330.50" x2="93.68" y2="336.50" stroke="#9a9a9a" stroke-width="1.5" />
<line x1="90.93" y1="330.50" x2="96.43" y2="330.50" stroke="#707070" stroke-width="1.1" />
<line x1="90.93" y1="336.50" x2="96.43" y2="336.50" stroke="#707070" stroke-width="1.1" />
<line x1="103.50" y1="327.20" x2="103.50" y2="334.20" stroke="#9a9a9a" stroke-width="1.5" />
<line x1="100.75" y1="327.20" x2="106.25" y2="327.20" stroke="#707070" stroke-width="1.1" />
<line x1="100.75" y1="334.20" x2="106.25" y2="334.20" stroke="#707070" stroke-width="1.1" />
<line x1="113.33" y1="315.60" x2="113.33" y2="324.60" stroke="#9a9a9a" stroke-width="1.5" />
<line x1="110.58" y1="315.60" x2="116.08" y2="315.60" stroke="#707070" stroke-width="1.1" />
<line x1="110.58" y1="324.60" x2="116.08" y2="324.60" stroke="#707070" stroke-width="1.1" />
<line x1="123.15" y1="311.10" x2="123.15" y2="319.10" stroke="#9a9a9a" stroke-width="1.5" />
<line x1="120.40" y1="311.10" x2="125.90" y2="311.10" stroke="#707070" stroke-width="1.1" />
<line x1="120.40" y1="319.10" x2="125.90" y2="319.10" stroke="#707070" stroke-width="1.1" />
<line x1="132.98" y1="308.60" x2="132.98" y2="318.60" stroke="#9a9a9a" stroke-width="1.5" />
<line x1="130.23" y1="308.60" x2="135.73" y2="308.60" stroke="#707070" stroke-width="1.1" />
<line x1="130.23" y1="318.60" x2="135.73" y2="318.60" stroke="#707070" stroke-width="1.1" />
<line x1="142.80" y1="295.60" x2="142.80" y2="305.60" stroke="#9a9a9a" stroke-width="1.5" />
<line x1="140.05" y1="295.60" x2="145.55" y2="295.60" stroke="#707070" stroke-width="1.1" />
<line x1="140.05" y1="305.60" x2="145.55" y2="305.60" stroke="#707070" stroke-width="1.1" />
<line x1="152.62" y1="285.10" x2="152.62" y2="297.50" stroke="#9a9a9a" stroke-width="1.5" />
<line x1="149.88" y1="285.10" x2="155.38" y2="285.10" stroke="#707070" stroke-width="1.1" />
<line x1="149.88" y1="297.50" x2="155.38" y2="297.50" stroke="#707070" stroke-width="1.1" />
<line x1="162.45" y1="275.40" x2="162.45" y2="290.00" stroke="#9a9a9a" stroke-width="1.5" />
<line x1="159.70" y1="275.40" x2="165.20" y2="275.40" stroke="#707070" stroke-width="1.1" />
<line x1="159.70" y1="290.00" x2="165.20" y2="290.00" stroke="#707070" stroke-width="1.1" />
<line x1="172.28" y1="269.50" x2="172.28" y2="284.30" stroke="#9a9a9a" stroke-width="1.5" />
<line x1="169.53" y1="269.50" x2="175.03" y2="269.50" stroke="#707070" stroke-width="1.1" />
<line x1="169.53" y1="284.30" x2="175.03" y2="284.30" stroke="#707070" stroke-width="1.1" />
<line x1="182.10" y1="254.30" x2="182.10" y2="272.30" stroke="#9a9a9a" stroke-width="1.5" />
<line x1="179.35" y1="254.30" x2="184.85" y2="254.30" stroke="#707070" stroke-width="1.1" />
<line x1="179.35" y1="272.30" x2="184.85" y2="272.30" stroke="#707070" stroke-width="1.1" />
<circle cx="83.85" cy="339.00" r="2.75" fill="#ff8500" stroke="#202020" stroke-width="0.9"/>
<circle cx="93.68" cy="333.50" r="2.75" fill="#ff8500" stroke="#202020" stroke-width="0.9"/>
<circle cx="103.50" cy="330.70" r="2.75" fill="#ff8500" stroke="#202020" stroke-width="0.9"/>
<circle cx="113.33" cy="320.10" r="2.75" fill="#ff8500" stroke="#202020" stroke-width="0.9"/>
<circle cx="123.15" cy="315.10" r="2.75" fill="#ff8500" stroke="#202020" stroke-width="0.9"/>
<circle cx="132.98" cy="313.60" r="2.75" fill="#ff8500" stroke="#202020" stroke-width="0.9"/>
<circle cx="142.80" cy="300.60" r="2.75" fill="#ff8500" stroke="#202020" stroke-width="0.9"/>
<circle cx="152.62" cy="291.30" r="2.75" fill="#ff8500" stroke="#202020" stroke-width="0.9"/>
<circle cx="162.45" cy="282.70" r="2.75" fill="#ff8500" stroke="#202020" stroke-width="0.9"/>
<circle cx="172.28" cy="276.90" r="2.75" fill="#ff8500" stroke="#202020" stroke-width="0.9"/>
<circle cx="182.10" cy="263.30" r="2.75" fill="#ff8500" stroke="#202020" stroke-width="0.9"/>
<line x1="83.85" y1="320.80" x2="83.85" y2="328.40" stroke="#9a9a9a" stroke-width="1.5" />
<line x1="81.10" y1="320.80" x2="86.60" y2="320.80" stroke="#707070" stroke-width="1.1" />
<line x1="81.10" y1="328.40" x2="86.60" y2="328.40" stroke="#707070" stroke-width="1.1" />
<line x1="93.68" y1="314.50" x2="93.68" y2="322.50" stroke="#9a9a9a" stroke-width="1.5" />
<line x1="90.93" y1="314.50" x2="96.43" y2="314.50" stroke="#707070" stroke-width="1.1" />
<line x1="90.93" y1="322.50" x2="96.43" y2="322.50" stroke="#707070" stroke-width="1.1" />
<line x1="103.50" y1="304.40" x2="103.50" y2="313.40" stroke="#9a9a9a" stroke-width="1.5" />
<line x1="100.75" y1="304.40" x2="106.25" y2="304.40" stroke="#707070" stroke-width="1.1" />
<line x1="100.75" y1="313.40" x2="106.25" y2="313.40" stroke="#707070" stroke-width="1.1" />
<line x1="113.33" y1="295.80" x2="113.33" y2="306.20" stroke="#9a9a9a" stroke-width="1.5" />
<line x1="110.58" y1="295.80" x2="116.08" y2="295.80" stroke="#707070" stroke-width="1.1" />
<line x1="110.58" y1="306.20" x2="116.08" y2="306.20" stroke="#707070" stroke-width="1.1" />
<line x1="123.15" y1="286.40" x2="123.15" y2="296.80" stroke="#9a9a9a" stroke-width="1.5" />
<line x1="120.40" y1="286.40" x2="125.90" y2="286.40" stroke="#707070" stroke-width="1.1" />
<line x1="120.40" y1="296.80" x2="125.90" y2="296.80" stroke="#707070" stroke-width="1.1" />
<line x1="132.98" y1="275.70" x2="132.98" y2="288.70" stroke="#9a9a9a" stroke-width="1.5" />
<line x1="130.23" y1="275.70" x2="135.73" y2="275.70" stroke="#707070" stroke-width="1.1" />
<line x1="130.23" y1="288.70" x2="135.73" y2="288.70" stroke="#707070" stroke-width="1.1" />
<line x1="142.80" y1="261.00" x2="142.80" y2="275.00" stroke="#9a9a9a" stroke-width="1.5" />
<line x1="140.05" y1="261.00" x2="145.55" y2="261.00" stroke="#707070" stroke-width="1.1" />
<line x1="140.05" y1="275.00" x2="145.55" y2="275.00" stroke="#707070" stroke-width="1.1" />
<line x1="152.62" y1="258.50" x2="152.62" y2="272.50" stroke="#9a9a9a" stroke-width="1.5" />
<line x1="149.88" y1="258.50" x2="155.38" y2="258.50" stroke="#707070" stroke-width="1.1" />
<line x1="149.88" y1="272.50" x2="155.38" y2="272.50" stroke="#707070" stroke-width="1.1" />
<line x1="162.45" y1="239.40" x2="162.45" y2="258.40" stroke="#9a9a9a" stroke-width="1.5" />
<line x1="159.70" y1="239.40" x2="165.20" y2="239.40" stroke="#707070" stroke-width="1.1" />
<line x1="159.70" y1="258.40" x2="165.20" y2="258.40" stroke="#707070" stroke-width="1.1" />
<line x1="172.28" y1="241.00" x2="172.28" y2="263.00" stroke="#9a9a9a" stroke-width="1.5" />
<line x1="169.53" y1="241.00" x2="175.03" y2="241.00" stroke="#707070" stroke-width="1.1" />
<line x1="169.53" y1="263.00" x2="175.03" y2="263.00" stroke="#707070" stroke-width="1.1" />
<line x1="182.10" y1="220.30" x2="182.10" y2="247.90" stroke="#9a9a9a" stroke-width="1.5" />
<line x1="179.35" y1="220.30" x2="184.85" y2="220.30" stroke="#707070" stroke-width="1.1" />
<line x1="179.35" y1="247.90" x2="184.85" y2="247.90" stroke="#707070" stroke-width="1.1" />
<circle cx="83.85" cy="324.60" r="2.75" fill="#ff0000" stroke="#202020" stroke-width="0.9"/>
<circle cx="93.68" cy="318.50" r="2.75" fill="#ff0000" stroke="#202020" stroke-width="0.9"/>
<circle cx="103.50" cy="308.90" r="2.75" fill="#ff0000" stroke="#202020" stroke-width="0.9"/>
<circle cx="113.33" cy="301.00" r="2.75" fill="#ff0000" stroke="#202020" stroke-width="0.9"/>
<circle cx="123.15" cy="291.60" r="2.75" fill="#ff0000" stroke="#202020" stroke-width="0.9"/>
<circle cx="132.98" cy="282.20" r="2.75" fill="#ff0000" stroke="#202020" stroke-width="0.9"/>
<circle cx="142.80" cy="268.00" r="2.75" fill="#ff0000" stroke="#202020" stroke-width="0.9"/>
<circle cx="152.62" cy="265.50" r="2.75" fill="#ff0000" stroke="#202020" stroke-width="0.9"/>
<circle cx="162.45" cy="248.90" r="2.75" fill="#ff0000" stroke="#202020" stroke-width="0.9"/>
<circle cx="172.28" cy="252.00" r="2.75" fill="#ff0000" stroke="#202020" stroke-width="0.9"/>
<circle cx="182.10" cy="234.10" r="2.75" fill="#ff0000" stroke="#202020" stroke-width="0.9"/>
<line x1="69.60" y1="219.60" x2="85.20" y2="219.60" stroke="#404040" stroke-width="1" />
<circle cx="77.40" cy="219.60" r="2.9" fill="#ff0000" stroke="#202020" stroke-width="0.9"/>
<text x="94.00" y="223.10" font-size="9.7" text-anchor="start" stroke="#1a1a1a" stroke-width="0.25" fill="#1a1a1a" >0% aa</text>
<line x1="69.60" y1="233.20" x2="85.20" y2="233.20" stroke="#404040" stroke-width="1" />
<circle cx="77.40" cy="233.20" r="2.9" fill="#ff8500" stroke="#202020" stroke-width="0.9"/>
<text x="94.00" y="236.70" font-size="9.7" text-anchor="start" stroke="#1a1a1a" stroke-width="0.25" fill="#1a1a1a" >5% aa</text>
<line x1="69.60" y1="246.80" x2="85.20" y2="246.80" stroke="#404040" stroke-width="1" />
<circle cx="77.40" cy="246.80" r="2.9" fill="#1a9e68" stroke="#202020" stroke-width="0.9"/>
<text x="94.00" y="250.30" font-size="9.7" text-anchor="start" stroke="#1a1a1a" stroke-width="0.25" fill="#1a1a1a" >10% aa</text>
<line x1="69.60" y1="260.30" x2="85.20" y2="260.30" stroke="#404040" stroke-width="1" />
<circle cx="77.40" cy="260.30" r="2.9" fill="#0000c8" stroke="#202020" stroke-width="0.9"/>
<text x="94.00" y="263.80" font-size="9.7" text-anchor="start" stroke="#1a1a1a" stroke-width="0.25" fill="#1a1a1a" >100% aa</text>
<line x1="289.20" y1="223.78" x2="289.20" y2="354.80" stroke="#3a3a3a" stroke-width="1" />
<line x1="285.40" y1="354.30" x2="289.20" y2="354.30" stroke="#3a3a3a" stroke-width="1" />
<text x="284.60" y="357.70" font-size="9.7" text-anchor="end" stroke="#1a1a1a" stroke-width="0.25" fill="#1a1a1a" >0</text>
<line x1="285.40" y1="332.63" x2="289.20" y2="332.63" stroke="#3a3a3a" stroke-width="1" />
<text x="284.60" y="336.03" font-size="9.7" text-anchor="end" stroke="#1a1a1a" stroke-width="0.25" fill="#1a1a1a" >2500</text>
<line x1="285.40" y1="310.96" x2="289.20" y2="310.96" stroke="#3a3a3a" stroke-width="1" />
<text x="284.60" y="314.36" font-size="9.7" text-anchor="end" stroke="#1a1a1a" stroke-width="0.25" fill="#1a1a1a" >5000</text>
<line x1="285.40" y1="289.29" x2="289.20" y2="289.29" stroke="#3a3a3a" stroke-width="1" />
<text x="284.60" y="292.69" font-size="9.7" text-anchor="end" stroke="#1a1a1a" stroke-width="0.25" fill="#1a1a1a" >7500</text>
<line x1="285.40" y1="267.62" x2="289.20" y2="267.62" stroke="#3a3a3a" stroke-width="1" />
<text x="284.60" y="271.02" font-size="9.7" text-anchor="end" stroke="#1a1a1a" stroke-width="0.25" fill="#1a1a1a" >10000</text>
<line x1="285.40" y1="245.95" x2="289.20" y2="245.95" stroke="#3a3a3a" stroke-width="1" />
<text x="284.60" y="249.35" font-size="9.7" text-anchor="end" stroke="#1a1a1a" stroke-width="0.25" fill="#1a1a1a" >12500</text>
<line x1="285.40" y1="224.28" x2="289.20" y2="224.28" stroke="#3a3a3a" stroke-width="1" />
<text x="284.60" y="227.68" font-size="9.7" text-anchor="end" stroke="#1a1a1a" stroke-width="0.25" fill="#1a1a1a" >15000</text>
<line x1="289.20" y1="354.30" x2="420.20" y2="354.30" stroke="#3a3a3a" stroke-width="1" />
<line x1="289.20" y1="354.30" x2="289.20" y2="358.30" stroke="#3a3a3a" stroke-width="1" />
<text x="289.20" y="368.90" font-size="10" text-anchor="middle" stroke="#1a1a1a" stroke-width="0.25" fill="#1a1a1a" >-2</text>
<line x1="315.40" y1="354.30" x2="315.40" y2="358.30" stroke="#3a3a3a" stroke-width="1" />
<text x="315.40" y="368.90" font-size="10" text-anchor="middle" stroke="#1a1a1a" stroke-width="0.25" fill="#1a1a1a" >-1</text>
<line x1="341.60" y1="354.30" x2="341.60" y2="358.30" stroke="#3a3a3a" stroke-width="1" />
<text x="341.60" y="368.90" font-size="10" text-anchor="middle" stroke="#1a1a1a" stroke-width="0.25" fill="#1a1a1a" >0</text>
<line x1="367.80" y1="354.30" x2="367.80" y2="358.30" stroke="#3a3a3a" stroke-width="1" />
<text x="367.80" y="368.90" font-size="10" text-anchor="middle" stroke="#1a1a1a" stroke-width="0.25" fill="#1a1a1a" >1</text>
<line x1="394.00" y1="354.30" x2="394.00" y2="358.30" stroke="#3a3a3a" stroke-width="1" />
<text x="394.00" y="368.90" font-size="10" text-anchor="middle" stroke="#1a1a1a" stroke-width="0.25" fill="#1a1a1a" >2</text>
<line x1="420.20" y1="354.30" x2="420.20" y2="358.30" stroke="#3a3a3a" stroke-width="1" />
<text x="420.20" y="368.90" font-size="10" text-anchor="middle" stroke="#1a1a1a" stroke-width="0.25" fill="#1a1a1a" >3</text>
<text x="354.20" y="381.80" font-size="9.8" text-anchor="middle" font-weight="bold" stroke="#1a1a1a" stroke-width="0.2" fill="#1a1a1a" >aa concentration (log10 %)</text>
<text transform="translate(240.30,289.70) rotate(-90)" font-size="9.8" text-anchor="middle" font-weight="bold" stroke="#1a1a1a" stroke-width="0.3" fill="#1a1a1a">GFP-LC3 Accumulation</text>
<text transform="translate(251.90,289.00) rotate(-90)" font-size="9.8" text-anchor="middle" font-weight="bold" stroke="#1a1a1a" stroke-width="0.3" fill="#1a1a1a">(SumInt per Min)</text>
<polyline points="289.20,238.17 289.85,238.18 290.51,238.18 291.16,238.18 291.82,238.18 292.47,238.19 293.13,238.19 293.78,238.19 294.44,238.19 295.09,238.20 295.75,238.20 296.40,238.20 297.06,238.21 297.71,238.21 298.37,238.22 299.02,238.22 299.68,238.23 300.33,238.23 300.99,238.24 301.64,238.25 302.30,238.25 302.95,238.26 303.61,238.27 304.26,238.28 304.92,238.29 305.57,238.30 306.23,238.31 306.88,238.32 307.54,238.33 308.19,238.35 308.85,238.36 309.50,238.38 310.16,238.39 310.81,238.41 311.47,238.43 312.12,238.45 312.78,238.48 313.44,238.50 314.09,238.52 314.75,238.55 315.40,238.58 316.06,238.61 316.71,238.65 317.37,238.68 318.02,238.72 318.68,238.76 319.33,238.81 319.99,238.86 320.64,238.91 321.29,238.96 321.95,239.02 322.60,239.09 323.26,239.15 323.91,239.23 324.57,239.30 325.22,239.39 325.88,239.48 326.53,239.57 327.19,239.68 327.84,239.79 328.50,239.90 329.15,240.03 329.81,240.16 330.46,240.31 331.12,240.46 331.77,240.63 332.43,240.80 333.08,240.99 333.74,241.19 334.39,241.41 335.05,241.63 335.70,241.88 336.36,242.14 337.01,242.42 337.67,242.71 338.32,243.03 338.98,243.37 339.63,243.72 340.29,244.10 340.94,244.51 341.60,244.93 342.25,245.39 342.91,245.87 343.56,246.38 344.22,246.92 344.88,247.49 345.53,248.10 346.19,248.74 346.84,249.41 347.50,250.12 348.15,250.86 348.81,251.64 349.46,252.46 350.12,253.32 350.77,254.22 351.43,255.16 352.08,256.14 352.74,257.16 353.39,258.22 354.04,259.32 354.70,260.46 355.36,261.64 356.01,262.85 356.66,264.10 357.32,265.39 357.97,266.71 358.63,268.05 359.28,269.43 359.94,270.82 360.59,272.24 361.25,273.68 361.90,275.14 362.56,276.60 363.21,278.08 363.87,279.56 364.52,281.04 365.18,282.52 365.83,283.99 366.49,285.45 367.14,286.90 367.80,288.33 368.45,289.74 369.11,291.13 369.76,292.49 370.42,293.82 371.07,295.12 371.73,296.39 372.38,297.63 373.04,298.83 373.69,299.99 374.35,301.11 375.00,302.19 375.66,303.23 376.31,304.24 376.97,305.20 377.62,306.12 378.28,307.00 378.94,307.85 379.59,308.65 380.25,309.41 380.90,310.14 381.55,310.83 382.21,311.49 382.87,312.11 383.52,312.70 384.17,313.26 384.83,313.79 385.49,314.29 386.14,314.76 386.79,315.20 387.45,315.62 388.11,316.01 388.76,316.38 389.41,316.73 390.07,317.06 390.72,317.36 391.38,317.65 392.03,317.92 392.69,318.17 393.34,318.41 394.00,318.63 394.65,318.84 395.31,319.04 395.96,319.22 396.62,319.39 397.27,319.55 397.93,319.70 398.58,319.84 399.24,319.97 399.89,320.09 400.55,320.21 401.20,320.31 401.86,320.41 402.51,320.51 403.17,320.59 403.82,320.67 404.48,320.75 405.13,320.82 405.79,320.89 406.44,320.95 407.10,321.01 407.75,321.06 408.41,321.11 409.06,321.16 409.72,321.20 410.38,321.24 411.03,321.28 411.68,321.31 412.34,321.34 413.00,321.38 413.65,321.40 414.31,321.43 414.96,321.46 415.62,321.48 416.27,321.50 416.92,321.52 417.58,321.54 418.24,321.56 418.89,321.57 419.54,321.59 420.20,321.60" fill="none" stroke="#202020" stroke-width="1" stroke-dasharray="2,1.4"/>
<line x1="315.40" y1="236.20" x2="315.40" y2="245.00" stroke="#9a9a9a" stroke-width="1.5" />
<line x1="312.40" y1="236.20" x2="318.40" y2="236.20" stroke="#707070" stroke-width="1.1" />
<line x1="312.40" y1="245.00" x2="318.40" y2="245.00" stroke="#707070" stroke-width="1.1" />
<circle cx="315.40" cy="240.60" r="3.0" fill="#ff0000" stroke="#202020" stroke-width="0.9"/>
<line x1="359.91" y1="256.00" x2="359.91" y2="265.10" stroke="#9a9a9a" stroke-width="1.5" />
<line x1="356.91" y1="256.00" x2="362.91" y2="256.00" stroke="#707070" stroke-width="1.1" />
<line x1="356.91" y1="265.10" x2="362.91" y2="265.10" stroke="#707070" stroke-width="1.1" />
<circle cx="359.91" cy="260.40" r="3.0" fill="#ff8500" stroke="#202020" stroke-width="0.9"/>
<line x1="367.80" y1="291.30" x2="367.80" y2="301.40" stroke="#9a9a9a" stroke-width="1.5" />
<line x1="364.80" y1="291.30" x2="370.80" y2="291.30" stroke="#707070" stroke-width="1.1" />
<line x1="364.80" y1="301.40" x2="370.80" y2="301.40" stroke="#707070" stroke-width="1.1" />
<circle cx="367.80" cy="296.50" r="3.0" fill="#109a10" stroke="#202020" stroke-width="0.9"/>
<line x1="394.00" y1="310.10" x2="394.00" y2="316.40" stroke="#9a9a9a" stroke-width="1.5" />
<line x1="391.00" y1="310.10" x2="397.00" y2="310.10" stroke="#707070" stroke-width="1.1" />
<line x1="391.00" y1="316.40" x2="397.00" y2="316.40" stroke="#707070" stroke-width="1.1" />
<circle cx="394.00" cy="313.50" r="3.0" fill="#0000c8" stroke="#202020" stroke-width="0.9"/>
<line x1="404.20" y1="231.70" x2="420.20" y2="231.70" stroke="#404040" stroke-width="1" />
<circle cx="412.20" cy="231.70" r="3.1" fill="#ff0000" stroke="#202020" stroke-width="0.9"/>
<text x="429.00" y="235.10" font-size="10" text-anchor="start" stroke="#1a1a1a" stroke-width="0.25" fill="#1a1a1a" >0% aa</text>
<line x1="404.20" y1="245.90" x2="420.20" y2="245.90" stroke="#404040" stroke-width="1" />
<circle cx="412.20" cy="245.90" r="3.1" fill="#ff8500" stroke="#202020" stroke-width="0.9"/>
<text x="429.00" y="249.30" font-size="10" text-anchor="start" stroke="#1a1a1a" stroke-width="0.25" fill="#1a1a1a" >5% aa</text>
<line x1="404.20" y1="259.80" x2="420.20" y2="259.80" stroke="#404040" stroke-width="1" />
<circle cx="412.20" cy="259.80" r="3.1" fill="#1a9e68" stroke="#202020" stroke-width="0.9"/>
<text x="429.00" y="263.20" font-size="10" text-anchor="start" stroke="#1a1a1a" stroke-width="0.25" fill="#1a1a1a" >10% aa</text>
<line x1="404.20" y1="274.00" x2="420.20" y2="274.00" stroke="#404040" stroke-width="1" />
<circle cx="412.20" cy="274.00" r="3.1" fill="#0000c8" stroke="#202020" stroke-width="0.9"/>
<text x="429.00" y="277.40" font-size="10" text-anchor="start" stroke="#1a1a1a" stroke-width="0.25" fill="#1a1a1a" >100% aa</text>
</svg></body></html>
